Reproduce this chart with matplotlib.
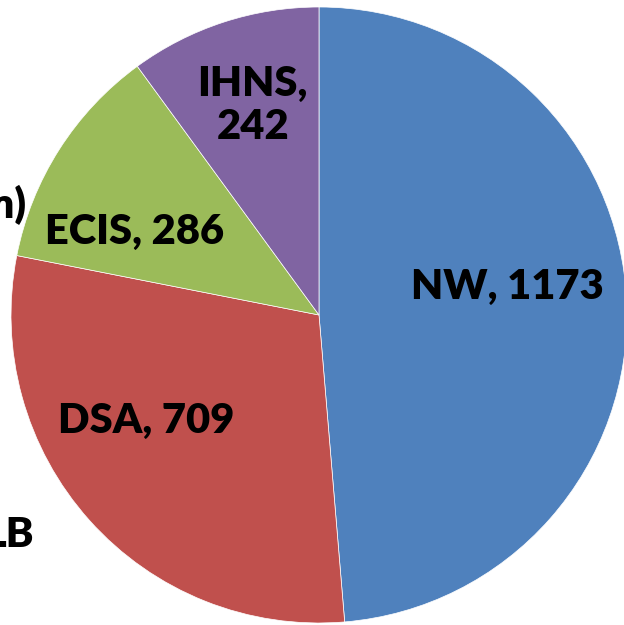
import matplotlib.pyplot as plt

labels = ['NW', 'DSA', 'ECIS', 'IHNS']
values = [1173, 709, 286, 242]
colors = ['#4F81BD', '#C0504D', '#9BBB59', '#8064A2']

# label spots (fraction of radius) picked to match the original layout
label_pos = [(0.61, 0.09), (-0.56, -0.345), (-0.60, 0.27), (-0.215, 0.68)]
label_text = ['NW, 1173', 'DSA, 709', 'ECIS, 286', 'IHNS,\n242']

fig = plt.figure(figsize=(6.24, 6.25), dpi=100)
ax = fig.add_axes([0, 0, 1, 1])

cx, cy, r = 319, 315, 308  # pixel centre and radius of the pie
ax.pie(values, colors=colors, startangle=90, counterclock=False,
       radius=1, center=(0, 0), wedgeprops=dict(linewidth=0.5, edgecolor='white'))

font = dict(fontsize=30, fontweight='heavy', family='Lato')
for (x, y), t in zip(label_pos, label_text):
    ax.text(x, y, t, ha='center', va='center', linespacing=1.15, **font)

# cut-off bits of outside text on the left edge
ax.text((27 - cx) / r, (cy - 205) / r, '(km)', ha='right', va='center',
        clip_on=False, **font)
ax.text((34 - cx) / r, (cy - 535) / r, 'LB', ha='right', va='center',
        clip_on=False, **font)

ax.set_xlim(-cx / r, (624 - cx) / r)
ax.set_ylim(-(625 - cy) / r, cy / r)
ax.set_aspect('auto')
ax.axis('off')

plt.savefig('out.png', dpi=100)
